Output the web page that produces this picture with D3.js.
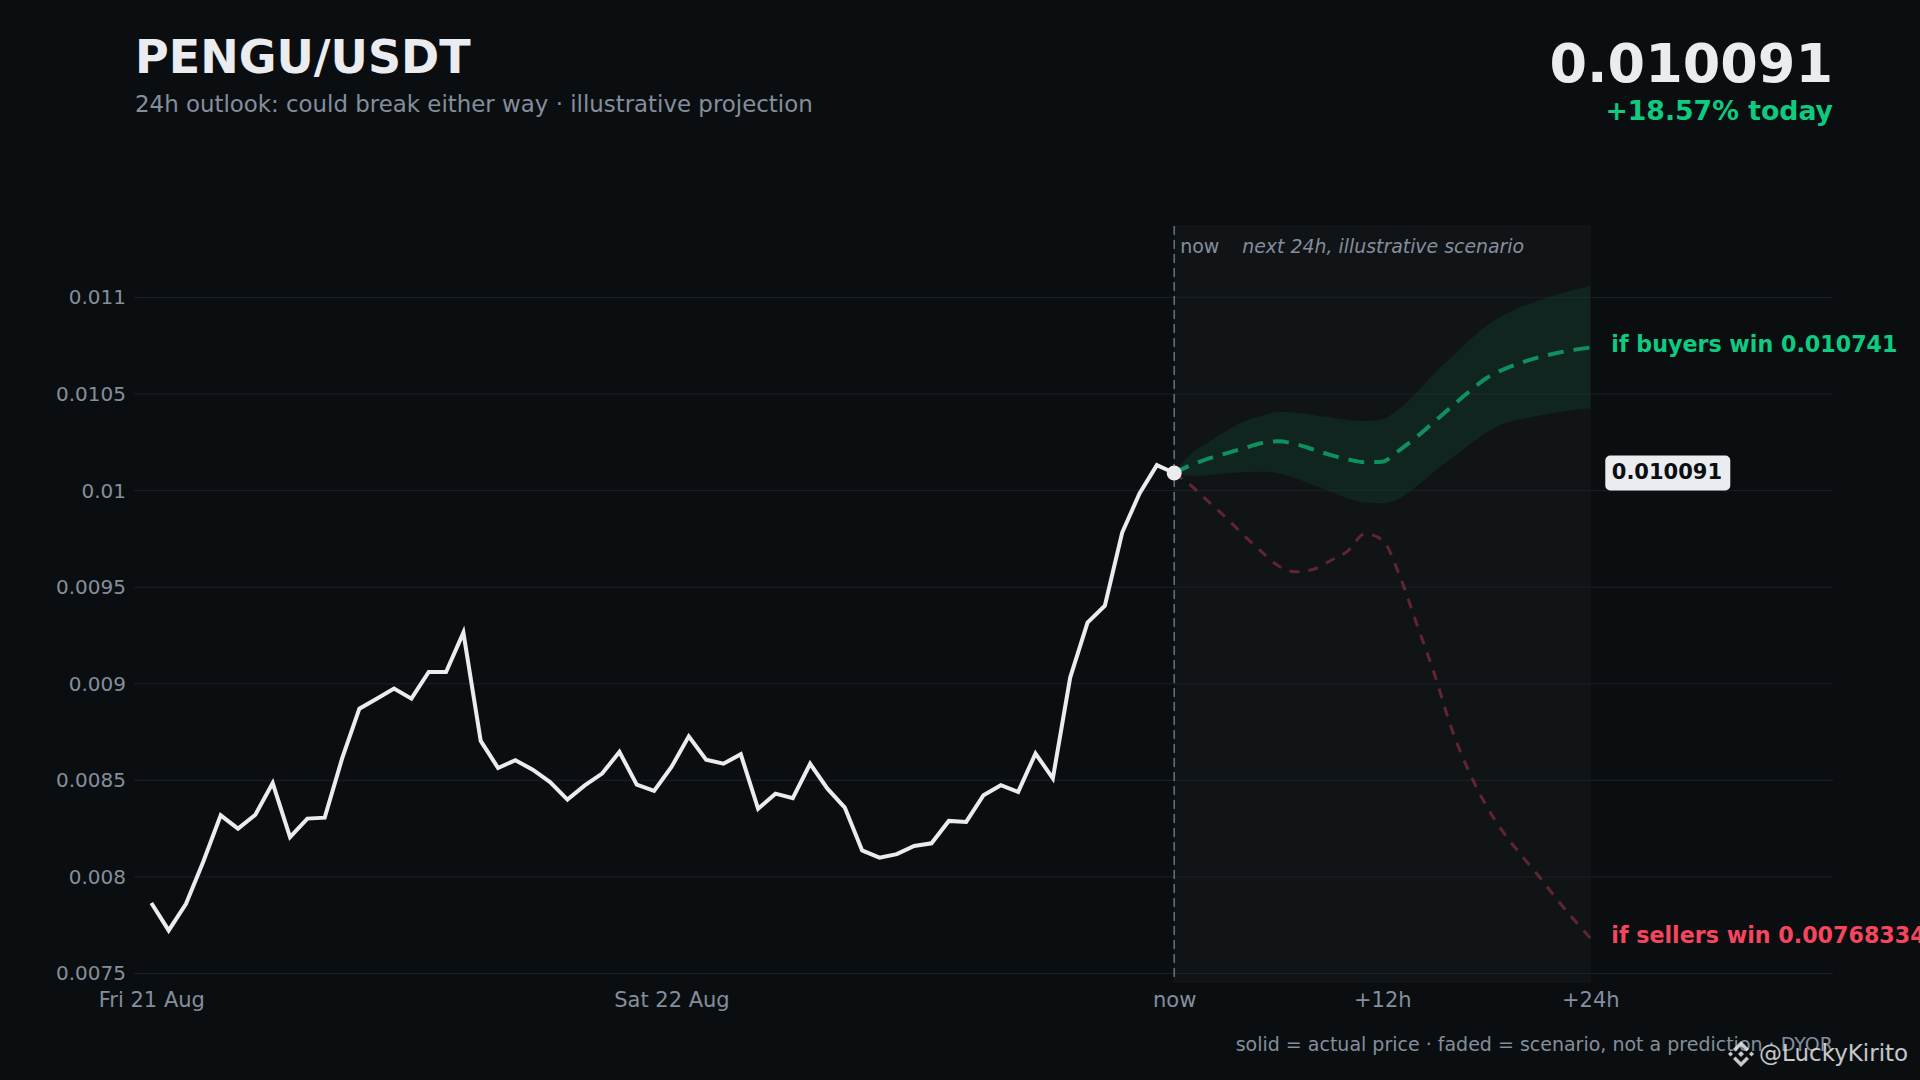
<!DOCTYPE html>
<html>
<head>
<meta charset="utf-8">
<script src="https://cdn.jsdelivr.net/npm/d3@7"></script>
<style>
  html, body { margin: 0; padding: 0; background: #0b0e11; }
  svg { display: block; font-family: "DejaVu Sans", sans-serif; }
</style>
</head>
<body>
<svg id="chart" width="1920" height="1080"></svg>
<script>
// price history, one point every 48 min from Fri 21 Aug 00:00 up to now
const history = [0.007865, 0.007723, 0.007861, 0.00808, 0.008319, 0.00825, 0.008322, 0.008486, 0.008206, 0.008302,
    0.008307, 0.008612, 0.008871, 0.008923, 0.008975, 0.008923, 0.009061, 0.009061, 0.009265, 0.008704,
    0.008564, 0.008604, 0.008555, 0.008491, 0.0084, 0.008474, 0.008535, 0.008647, 0.008478, 0.008445,
    0.008569, 0.008728, 0.008607, 0.008586, 0.008635, 0.008353, 0.008431, 0.008408, 0.008586, 0.008457,
    0.008359, 0.008137, 0.0081, 0.008118, 0.00816, 0.008174, 0.00829, 0.008285, 0.008423, 0.008475,
    0.00844, 0.008639, 0.00851, 0.009032, 0.009317, 0.009404, 0.009783, 0.009985, 0.010132, 0.010091]

// hourly scenario, now -> +24h
const buyers = [0.010091, 0.010133, 0.010167, 0.010193, 0.010219, 0.010245, 0.010255, 0.010241, 0.010214, 0.010185,
    0.010162, 0.010147, 0.01015, 0.01021, 0.010279, 0.010357, 0.010435, 0.010512, 0.010582, 0.010628,
    0.010662, 0.01069, 0.010711, 0.010728, 0.010741]
const bandHigh = [0.010091, 0.010193, 0.010253, 0.01031, 0.010357, 0.010386, 0.010407, 0.010405, 0.010392, 0.01038,
    0.010366, 0.01036, 0.010369, 0.010426, 0.010512, 0.010607, 0.010693, 0.010777, 0.010852, 0.010909,
    0.010952, 0.010983, 0.011013, 0.011039, 0.01106]
const bandLow = [0.010091, 0.010076, 0.010079, 0.01009, 0.010095, 0.010098, 0.01009, 0.010064, 0.010029, 0.009995,
    0.00996, 0.009938, 0.009934, 0.00996, 0.010024, 0.010098, 0.010167, 0.010236, 0.0103, 0.010345,
    0.010369, 0.010388, 0.010404, 0.010418, 0.010426]
const sellers = [0.010091, 0.010024, 0.009941, 0.009859, 0.00977, 0.009687, 0.009611, 0.00958, 0.009592, 0.009637,
    0.009687, 0.009776, 0.009745, 0.009561, 0.009307, 0.009053, 0.008768, 0.008546, 0.008369, 0.008229,
    0.008115, 0.008007, 0.007893, 0.007785, 0.00768334]

const yTicks = [0.0075, 0.008, 0.0085, 0.009, 0.0095, 0.01, 0.0105, 0.011]
const xTickIdx = [0, 30, 59, 71, 83]
const xTickLabels = ["Fri 21 Aug", "Sat 22 Aug", "now", "+12h", "+24h"]

const lastPrice = "0.010091"
const change = "+18.57% today"
const buyersLabel = "if buyers win 0.010741"
const sellersLabel = "if sellers win 0.00768334"

const green = "#0ecb81", red = "#f6465d", grey = "#848e9c", light = "#eaecef", bg = "#0b0e11"

const svg = d3.select("#chart")
svg.append("rect").attr("width", 1920).attr("height", 1080).attr("fill", bg)

const plot = {left: 134, right: 1833, top: 226, bottom: 982}
const x = d3.scaleLinear().domain([-1, 97]).range([plot.left, plot.right])
const y = d3.scaleLinear().domain([0.007456, 0.01137]).range([plot.bottom, plot.top])

const nowIdx = history.length - 1
const proj = buyers.map((v, h) => ({i: nowIdx + h, buy: v, sell: sellers[h], lo: bandLow[h], hi: bandHigh[h]}))
const endIdx = proj[proj.length - 1].i

// shaded scenario window
svg.append("rect")
    .attr("x", x(nowIdx)).attr("y", plot.top)
    .attr("width", x(endIdx) - x(nowIdx)).attr("height", plot.bottom - plot.top)
    .attr("fill", "rgba(255,255,255,0.028)")
    .attr("stroke", "rgba(255,255,255,0.03)")

// grid
svg.append("g").selectAll("line").data(yTicks).join("line")
    .attr("x1", plot.left).attr("x2", plot.right)
    .attr("y1", d => y(d)).attr("y2", d => y(d))
    .attr("stroke", "#1c2027").attr("stroke-width", 1)

const yAxis = svg.append("g").attr("transform", `translate(${plot.left},0)`)
    .call(d3.axisLeft(y).tickValues(yTicks).tickSize(0).tickPadding(8).tickFormat(d => String(+d.toFixed(5))))
yAxis.select(".domain").remove()
yAxis.selectAll("text").attr("fill", grey).attr("font-size", 20).attr("font-family", "DejaVu Sans")

const xAxis = svg.append("g").attr("transform", `translate(0,${plot.bottom})`)
    .call(d3.axisBottom(x).tickValues(xTickIdx).tickSize(0).tickPadding(10).tickFormat((d, i) => xTickLabels[i]))
xAxis.select(".domain").remove()
xAxis.selectAll("text").attr("fill", grey).attr("font-size", 21).attr("font-family", "DejaVu Sans")

// now marker
svg.append("line")
    .attr("x1", x(nowIdx)).attr("x2", x(nowIdx))
    .attr("y1", plot.top).attr("y2", plot.bottom)
    .attr("stroke", "#6b717b").attr("stroke-width", 1.5).attr("stroke-dasharray", "9,5")

svg.append("text").attr("x", x(nowIdx) + 6).attr("y", plot.top + 27)
    .attr("fill", grey).attr("font-size", 19).text("now")
svg.append("text").attr("x", x(nowIdx) + 68).attr("y", plot.top + 27)
    .attr("fill", grey).attr("font-size", 18.9).attr("font-style", "italic").text("next 24h, illustrative scenario")

// scenarios
const band = d3.area().x(d => x(d.i)).y0(d => y(d.lo)).y1(d => y(d.hi)).curve(d3.curveMonotoneX)
svg.append("path").datum(proj).attr("d", band).attr("fill", green).attr("fill-opacity", 0.09)

const sellLine = d3.line().x(d => x(d.i)).y(d => y(d.sell)).curve(d3.curveMonotoneX)
svg.append("path").datum(proj).attr("d", sellLine)
    .attr("fill", "none").attr("stroke", red).attr("stroke-opacity", 0.35)
    .attr("stroke-width", 3).attr("stroke-dasharray", "10,9")

const buyLine = d3.line().x(d => x(d.i)).y(d => y(d.buy)).curve(d3.curveMonotoneX)
svg.append("path").datum(proj).attr("d", buyLine)
    .attr("fill", "none").attr("stroke", green).attr("stroke-opacity", 0.65)
    .attr("stroke-width", 4).attr("stroke-dasharray", "16,10")

// actual price
const histLine = d3.line().x((d, i) => x(i)).y(d => y(d))
svg.append("path").datum(history).attr("d", histLine)
    .attr("fill", "none").attr("stroke", light).attr("stroke-width", 4)

svg.append("circle").attr("cx", x(nowIdx)).attr("cy", y(history[nowIdx])).attr("r", 7.5).attr("fill", light)

// end labels
const labelX = x(endIdx) + 21
svg.append("text").attr("x", labelX).attr("y", y(buyers[buyers.length - 1]) + 4.5)
    .attr("fill", green).attr("font-size", 22.2).attr("font-weight", "bold").text(buyersLabel)
svg.append("text").attr("x", labelX).attr("y", y(sellers[sellers.length - 1]) + 4.5)
    .attr("fill", red).attr("font-size", 22.2).attr("font-weight", "bold").text(sellersLabel)

const tagY = y(history[nowIdx])
svg.append("rect").attr("x", labelX - 6).attr("y", tagY - 17.5).attr("width", 125).attr("height", 35)
    .attr("rx", 5).attr("fill", light)
svg.append("text").attr("x", labelX + 0.5).attr("y", tagY + 6)
    .attr("fill", bg).attr("font-size", 21).attr("font-weight", "bold").text(lastPrice)

// header
svg.append("text").attr("x", 135).attr("y", 73).attr("fill", light)
    .attr("font-size", 46).attr("font-weight", "bold").text("PENGU/USDT")
svg.append("text").attr("x", 135).attr("y", 112).attr("fill", grey)
    .attr("font-size", 22.9).text("24h outlook: could break either way · illustrative projection")

svg.append("text").attr("x", plot.right).attr("y", 82).attr("text-anchor", "end").attr("fill", light)
    .attr("font-size", 54).attr("font-weight", "bold").text(lastPrice)
svg.append("text").attr("x", plot.right).attr("y", 120).attr("text-anchor", "end").attr("fill", green)
    .attr("font-size", 26.7).attr("font-weight", "bold").text(change)

// footer
svg.append("text").attr("x", plot.right).attr("y", 1051).attr("text-anchor", "end").attr("fill", grey)
    .attr("font-size", 19).text("solid = actual price · faded = scenario, not a prediction · DYOR")

// watermark
const mark = svg.append("g").attr("transform", "translate(1741,1054)").attr("fill", "#e6e8ea").attr("opacity", 0.85)
mark.append("path").attr("d", "M0,-13 L8,-5 L5.5,-2.5 L0,-8 L-5.5,-2.5 L-8,-5 Z")
mark.append("path").attr("d", "M0,13 L8,5 L5.5,2.5 L0,8 L-5.5,2.5 L-8,5 Z")
mark.append("path").attr("d", "M0,-3 L3,0 L0,3 L-3,0 Z")
mark.append("path").attr("d", "M-10.5,-2.5 L-8,0 L-10.5,2.5 L-13,0 Z")
mark.append("path").attr("d", "M10.5,-2.5 L13,0 L10.5,2.5 L8,0 Z")
svg.append("text").attr("x", 1759).attr("y", 1061).attr("fill", "#e6e8ea").attr("opacity", 0.85)
    .attr("font-size", 23).text("@LuckyKirito")
</script>
</body>
</html>
